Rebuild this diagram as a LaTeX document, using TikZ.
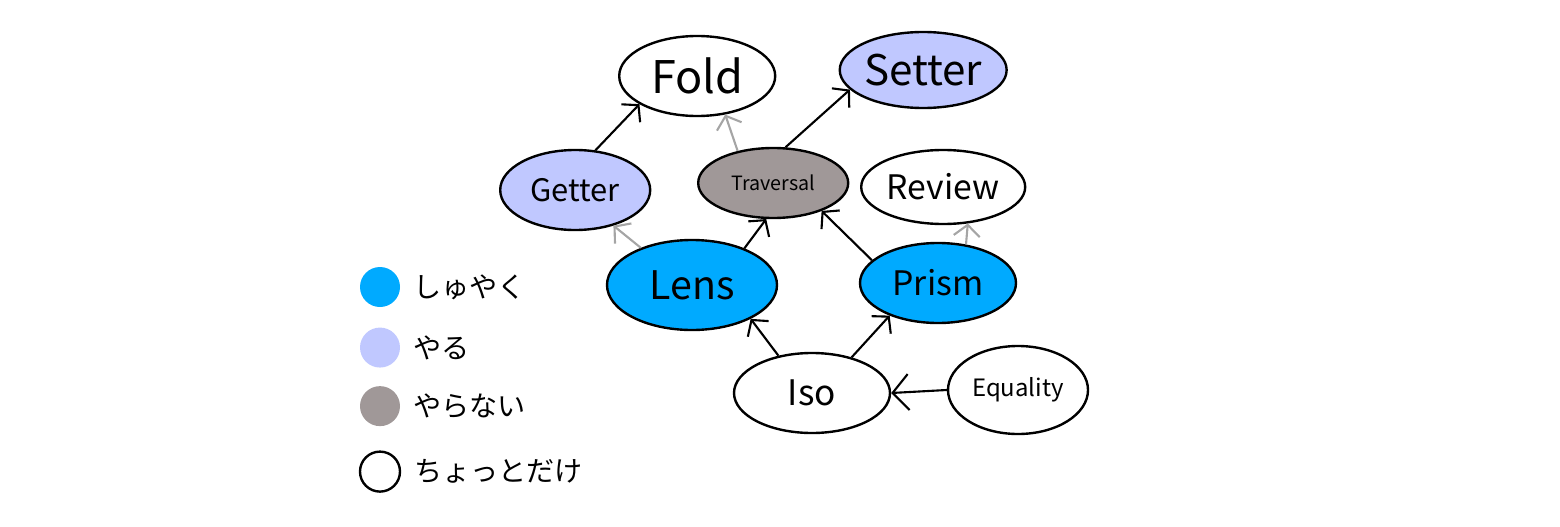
\documentclass[tikz,border=0pt]{standalone}
\usepackage{fontspec}
\setmainfont{Noto Sans CJK JP}
\usepackage{xcolor}
\usetikzlibrary{positioning,arrows.meta,shapes.geometric}

\definecolor{mainblue}{RGB}{0,170,255}
\definecolor{paleblue}{RGB}{192,200,255}
\definecolor{stone}{RGB}{160,152,152}
\definecolor{faint}{RGB}{165,165,165}

\begin{document}
\begin{tikzpicture}[
  optic/.style={draw, ellipse, line width=1.7pt, inner sep=0pt},
  arr/.style={-{Straight Barb[length=2.8mm, width=6.5mm]}, line width=1.5pt},
  weak/.style={arr, draw=faint},
  dot/.style={circle, minimum size=1cm, inner sep=0pt},
  note/.style={anchor=west, font=\fontsize{20}{22}\selectfont}
]
\useasboundingbox (0,0) rectangle (39,13.15);

% optics
\node[optic, minimum width=3.9cm, minimum height=2.0cm, font=\fontsize{32}{34}\selectfont] (fold) at (17.43,11.25) {Fold};
\node[optic, fill=paleblue, minimum width=3.9cm, minimum height=1.9cm, font=\fontsize{30}{32}\selectfont] (setter) at (23.08,11.4) {Setter};
\node[optic, fill=paleblue, minimum width=3.75cm, minimum height=2.0cm, font=\fontsize{22}{24}\selectfont] (getter) at (14.38,8.4) {Getter};
\node[optic, fill=stone, minimum width=3.75cm, minimum height=1.75cm, font=\fontsize{14}{16}\selectfont] (trav) at (19.33,8.575) {Traversal};
\node[optic, minimum width=4.1cm, minimum height=1.85cm, font=\fontsize{24}{26}\selectfont] (review) at (23.58,8.475) {Review};
\node[optic, fill=mainblue, minimum width=4.25cm, minimum height=2.25cm, font=\fontsize{28}{30}\selectfont] (lens) at (17.3,6.025) {Lens};
\node[optic, fill=mainblue, minimum width=3.9cm, minimum height=2.0cm, font=\fontsize{24}{26}\selectfont] (prism) at (23.45,6.075) {Prism};
\node[optic, minimum width=3.9cm, minimum height=2.0cm, font=\fontsize{25}{27}\selectfont] (iso) at (20.3,3.325) {Iso};
\node[optic, minimum width=3.5cm, minimum height=2.2cm, font=\fontsize{17}{19}\selectfont] (equ) at (25.45,3.4) {Equality};

% arrows
\draw[arr] (getter.63) -- (fold.-154);
\draw[weak] (trav.138) -- (fold.-54);
\draw[arr] (trav.71) -- (setter.-165);
\draw[weak] (lens.144) -- (getter.-43);
\draw[arr] (lens.35) -- (trav.-101);
\draw[arr] (prism.161) -- (trav.-30);
\draw[weak] (prism.54) -- (review.-56);
\draw[arr] (iso.132) -- (lens.-30);
\draw[arr] (iso.42) -- (prism.-146);
\draw[arr, -{Straight Barb[length=4mm, width=9mm]}] (equ.west) -- (iso.east);

% legend
\node[dot, fill=mainblue] (k1) at (9.5,5.975) {};
\node[dot, fill=paleblue, below=0.5cm of k1] (k2) {};
\node[dot, fill=stone, below=0.45cm of k2] (k3) {};
\node[dot, draw, line width=1.7pt, below=0.6cm of k3] (k4) {};
\node[note, right=0.2cm of k1] (t1) {しゅやく};
\node[note, right=0.2cm of k2] (t2) {やる};
\node[note, right=0.2cm of k3] (t3) {やらない};
\node[note, right=0.2cm of k4] (t4) {ちょっとだけ};
\end{tikzpicture}
\end{document}
